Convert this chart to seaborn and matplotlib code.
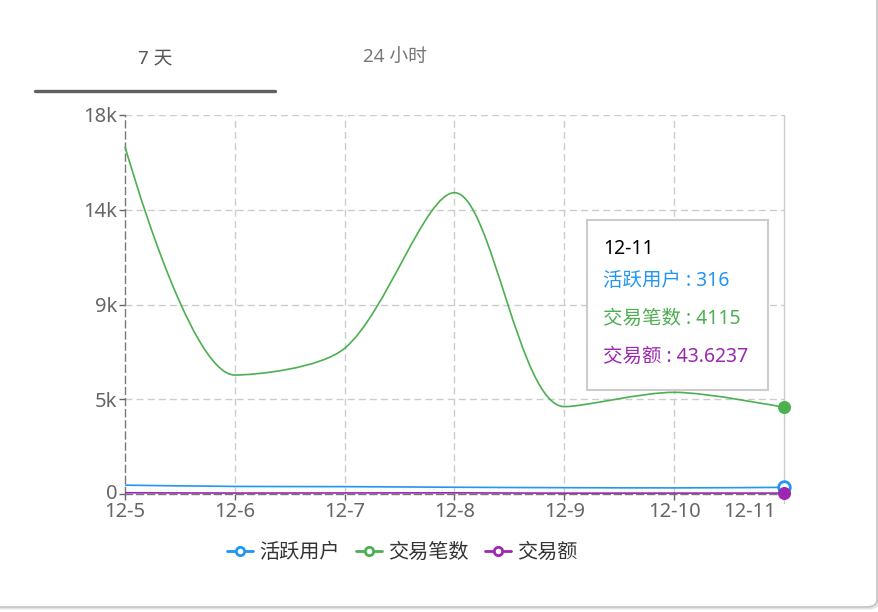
import numpy as np
import matplotlib
matplotlib.use("Agg")
import matplotlib.pyplot as plt
import seaborn as sns
from matplotlib.path import Path
from matplotlib.patches import PathPatch, Rectangle, FancyBboxPatch
from matplotlib.lines import Line2D
from matplotlib.transforms import ScaledTranslation

# ---------------- data ----------------
dates = ["12-5", "12-6", "12-7", "12-8", "12-9", "12-10", "12-11"]
active_users = [420, 360, 350, 320, 300, 290, 316]
tx_count = [16500, 5650, 6920, 14310, 4150, 4830, 4115]
tx_amount = [60, 45, 50, 55, 40, 42, 43.6237]
series_names = ["活跃用户", "交易笔数", "交易额"]
series_colors = ["#2196F3", "#4CAF50", "#9C27B0"]
y_ticks = [0, 4500, 9000, 13500, 18000]
y_tick_labels = ["0", "5k", "9k", "14k", "18k"]
tab_labels = ["7 天", "24 小时"]
tooltip_title = "12-11"
tooltip_lines = ["活跃用户 : 316", "交易笔数 : 4115", "交易额 : 43.6237"]

# ---------------- style ----------------
sns.set_theme(style="white")
plt.rcParams["font.family"] = ["Noto Sans", "Noto Sans CJK SC", "DejaVu Sans"]

W, H = 879, 612
fig = plt.figure(figsize=(W / 100, H / 100), dpi=100)
fig.patch.set_facecolor("white")


def fx(px):
    return px / W


def fy(py):
    return 1 - py / H


# card background with border / shadow
shadow = FancyBboxPatch((fx(-20), fy(609.5)), fx(899), 629.5 / H,
                        boxstyle="round,pad=0,rounding_size=0.012",
                        transform=fig.transFigure, facecolor="#e4e4e4",
                        edgecolor="none", zorder=-12)
fig.add_artist(shadow)
card = FancyBboxPatch((fx(-20), fy(607)), fx(897), 627 / H,
                      boxstyle="round,pad=0,rounding_size=0.012",
                      transform=fig.transFigure, facecolor="white",
                      edgecolor="#c4c4c4", linewidth=1.2, zorder=-11)
fig.add_artist(card)

# tabs
fig.text(fx(155), fy(58), tab_labels[0], ha="center", va="center",
         fontsize=13.5, color="#555555")
fig.text(fx(395), fy(58), tab_labels[1], ha="center", va="center",
         fontsize=13.5, color="#777777")
fig.add_artist(Line2D([fx(35), fx(275)], [fy(91), fy(91)],
                      transform=fig.transFigure, color="#606060", lw=2.4))

# axes
left, right, top, bottom = 125, 784, 115, 494
ax = fig.add_axes([fx(left), fy(bottom), fx(right - left), (bottom - top) / H])
ax.set_facecolor("none")
x = np.arange(len(dates))
ax.set_xlim(0, len(dates) - 1)
ax.set_ylim(0, 18000)

# grid
for yt in y_ticks[1:]:
    ax.axhline(yt, color="#cccccc", lw=1, ls=(0, (5, 3)), zorder=0)
for xt in x[1:-1]:
    ax.axvline(xt, color="#cccccc", lw=1, ls=(0, (5, 3)), zorder=0)
ax.axhline(0, color="#cccccc", lw=1, ls=(0, (5, 3)), zorder=0)

for s in ["top", "right"]:
    ax.spines[s].set_visible(False)
for s in ["left", "bottom"]:
    ax.spines[s].set_color("#777777")
    ax.spines[s].set_linewidth(1)
    ax.spines[s].set_linestyle((0, (5, 3)))

ax.set_xticks(x)
ax.set_xticklabels(dates)
ax.set_yticks(y_ticks)
ax.set_yticklabels(y_tick_labels)
ax.tick_params(axis="both", which="major", length=4, width=1, color="#666666",
               labelsize=14.5, labelcolor="#666666", bottom=True, left=True)
ax.tick_params(axis="x", pad=2)
ax.tick_params(axis="y", pad=1.5)
lbl = ax.get_xticklabels()[-1]
lbl.set_ha("right")
lbl.set_transform(lbl.get_transform() + ScaledTranslation(-0.08, 0, fig.dpi_scale_trans))
zero_lbl = ax.get_yticklabels()[0]
zero_lbl.set_transform(zero_lbl.get_transform() + ScaledTranslation(0, 0.025, fig.dpi_scale_trans))

# axis pointer line at hovered category
ax.axvline(x[-1], ymin=-0.025, ymax=1, color="#cccccc", lw=1, clip_on=False, zorder=1)

# smooth lines (ECharts-style bezier) drawn in data space
sx = (right - left) / (len(dates) - 1)
sy = (bottom - top) / 18000.0


def smooth_path(xs, ys, smooth=0.3):
    P = [(float(a) * sx, float(b) * sy) for a, b in zip(xs, ys)]
    n = len(P)
    verts = [P[0]]
    codes = [Path.MOVETO]
    cp0 = P[0]
    for k in range(1, n):
        px_, py_ = P[k - 1]
        x_, y_ = P[k]
        if k == n - 1:
            cp1 = (x_, y_)
            ncp0 = (x_, y_)
        else:
            nx, ny = P[k + 1]
            vx, vy = nx - px_, ny - py_
            lp = np.hypot(x_ - px_, y_ - py_)
            ln = np.hypot(nx - x_, ny - y_)
            r = ln / (ln + lp)
            ncx = x_ + vx * smooth * r
            ncy = y_ + vy * smooth * r
            ncx = max(min(ncx, max(nx, x_)), min(nx, x_))
            ncy = max(min(ncy, max(ny, y_)), min(ny, y_))
            vx, vy = ncx - x_, ncy - y_
            c1x = x_ - vx * lp / ln
            c1y = y_ - vy * lp / ln
            c1x = max(min(c1x, max(px_, x_)), min(px_, x_))
            c1y = max(min(c1y, max(py_, y_)), min(py_, y_))
            vx, vy = x_ - c1x, y_ - c1y
            ncx = x_ + vx * ln / lp
            ncy = y_ + vy * ln / lp
            cp1 = (c1x, c1y)
            ncp0 = (ncx, ncy)
        verts += [cp0, cp1, (x_, y_)]
        codes += [Path.CURVE4] * 3
        cp0 = ncp0
    verts = [(a / sx, b / sy) for a, b in verts]
    return Path(verts, codes)


all_series = [active_users, tx_count, tx_amount]
for vals, col in zip(all_series, series_colors):
    ax.add_patch(PathPatch(smooth_path(x, vals), facecolor="none", edgecolor=col,
                           lw=1.2, zorder=3, clip_on=False))

# hovered end-point markers
sns.scatterplot(x=[x[-1]], y=[active_users[-1]], ax=ax, s=70, color="white",
                edgecolor=series_colors[0], linewidth=2, clip_on=False, zorder=5)
sns.scatterplot(x=[x[-1]], y=[tx_count[-1]], ax=ax, s=70, color=series_colors[1],
                edgecolor=series_colors[1], linewidth=1, clip_on=False, zorder=5)
sns.scatterplot(x=[x[-1]], y=[tx_amount[-1]], ax=ax, s=70, color=series_colors[2],
                edgecolor=series_colors[2], linewidth=1, clip_on=False, zorder=6)
ax.set_xlim(0, len(dates) - 1)
ax.set_ylim(0, 18000)

# legend
handles = [Line2D([0], [0], color=c, lw=2, marker="o", ms=6, mfc="white", mec=c, mew=2)
           for c in series_colors]
fig.legend(handles, series_names, loc="center", bbox_to_anchor=(fx(402), fy(553)),
           ncol=3, frameon=False, fontsize=14.5, handlelength=1.3, handletextpad=0.3,
           columnspacing=0.8, labelcolor="#333333")

# tooltip
fig.add_artist(Rectangle((fx(587), fy(390)), fx(768 - 587), (390 - 220) / H,
                         transform=fig.transFigure, facecolor="white",
                         edgecolor="#cccccc", lw=1.5, zorder=10))
fig.text(fx(603), fy(249), tooltip_title, ha="left", va="center", fontsize=14,
         color="#000000", zorder=11)
for i, (t, c) in enumerate(zip(tooltip_lines, series_colors)):
    fig.text(fx(603), fy(281 + 38 * i), t, ha="left", va="center", fontsize=14,
             color=c, zorder=11)

fig.savefig("out.png", dpi=100, facecolor="white")
